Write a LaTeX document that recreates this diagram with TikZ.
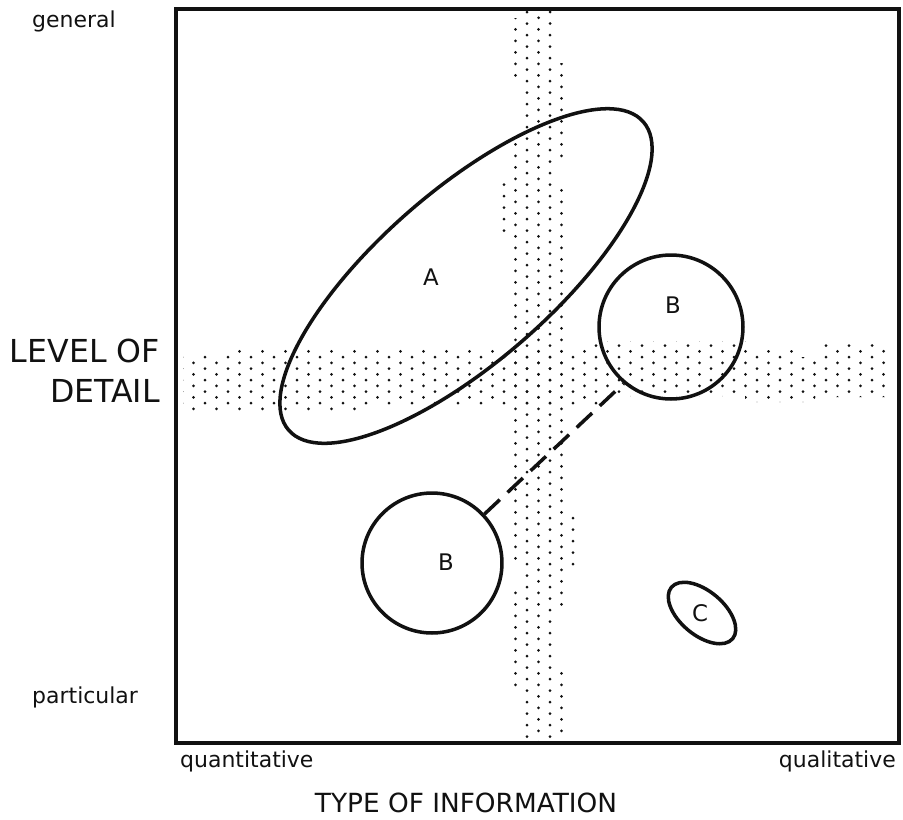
\documentclass[tikz,border=0pt]{standalone}
\usepackage{fontspec}
\setmainfont{DejaVu Sans}
\usetikzlibrary{shapes.geometric}
\definecolor{plotink}{HTML}{111111}

\begin{document}
\begin{tikzpicture}[x=0.02cm, y=-0.02cm,
    outline/.style={draw=plotink, line width=2pt},
    blob/.style={outline, ellipse, inner sep=0pt},
    ring/.style={outline, circle, inner sep=0pt},
    letter/.style={font=\fontsize{13}{15}\selectfont, text=plotink},
    axisname/.style={font=\fontsize{18}{23}\selectfont, text=plotink, align=right},
    typename/.style={font=\fontsize{15}{18}\selectfont, text=plotink},
    endname/.style={font=\fontsize{12.5}{15}\selectfont, text=plotink},
    dot/.style={fill=plotink}
  ]
  \useasboundingbox (0,0) rectangle (903,819);

  % Vertical dotted band
  \begin{scope}
    \clip (498,183) rectangle (510,236)
          (510,18) rectangle (521,83) (510,143) rectangle (521,564) (510,589) rectangle (521,691)
          (521,9) rectangle (556,743)
          (556,63) rectangle (567,161) (556,188) rectangle (567,609) (556,671) rectangle (567,737)
          (567,514) rectangle (579,569);
    \foreach \k in {0,...,6} {
      \pgfmathsetmacro\dx{504+11.5*\k}
      \pgfmathsetmacro\dy{12+5.75*mod(\k,2)}
      \foreach \j in {0,...,63}
        \fill[dot] (\dx, \dy+11.5*\j) circle[radius=1.5];
    }
  \end{scope}

  % Horizontal dotted band
  \begin{scope}
    \clip (183,355) -- (238,355) -- (238,349) -- (592,349) -- (592,341) -- (748,341)
          -- (748,350) -- (794,350) -- (794,357) -- (820,357) -- (820,343) -- (893,343)
          -- (893,397) -- (815,397) -- (815,402) -- (745,402) -- (745,396) -- (600,396)
          -- (600,405) -- (365,405) -- (365,412) -- (183,412) -- cycle;
    \foreach \k in {-28,...,34} {
      \pgfmathsetmacro\dx{504+11.5*\k}
      \pgfmathsetmacro\dy{12+5.75*mod(\k+28,2)}
      \foreach \j in {28,...,35}
        \fill[dot] (\dx, \dy+11.5*\j) circle[radius=1.5];
    }
  \end{scope}

  % Frame
  \draw[outline] (176,9) rectangle (899,743);

  % Regions
  \node[blob, minimum width=9.4cm, minimum height=3.44cm, rotate=41] (ellA) at (466,276) {};
  \node[ring, minimum size=2.88cm] (Bup) at (671,327) {};
  \node[ring, minimum size=2.8cm] (Blow) at (432,563) {};
  \node[blob, minimum width=1.6cm, minimum height=0.88cm, rotate=-40] (ellC) at (702,613) {};
  \draw[outline, dash pattern=on 12pt off 6pt] (Blow.43) -- (Bup.230);

  \node[letter] (labA) at (431,277) {A};
  \node[letter] (labBup) at (673,305) {B};
  \node[letter] (labBlow) at (446,562) {B};
  \node[letter] (labC) at (700,613) {C};

  % Axis texts
  \node[endname, anchor=west] (general) at (26,21) {general};
  \node[endname, anchor=west] (particular) at (26,697) {particular};
  \node[endname, anchor=west] (quant) at (174,761) {quantitative};
  \node[endname, anchor=east] (qual) at (902,761) {qualitative};
  \node[axisname, anchor=east] (levelname) at (166,371) {LEVEL OF\\DETAIL};
  \node[typename] (typename) at (466,803) {TYPE OF INFORMATION};
\end{tikzpicture}
\end{document}
